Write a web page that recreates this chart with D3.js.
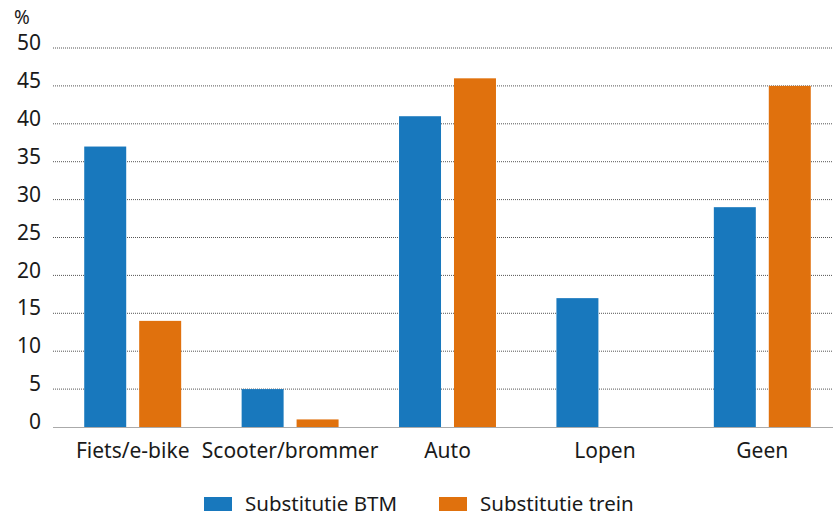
<!DOCTYPE html>
<html><head><meta charset="utf-8">
<script src="https://cdn.jsdelivr.net/npm/d3@7"></script>
<style>body{margin:0;background:#fff}text{font-family:"Noto Sans",sans-serif;fill:#1a1a1a}</style>
</head><body><svg id="c" width="833" height="516"></svg>
<script>
const categories = ["Fiets/e-bike","Scooter/brommer","Auto","Lopen","Geen"];
const seriesNames = ["Substitutie BTM","Substitutie trein"];
const btm = [37,5,41,17,29];
const trein = [14,1,46,0,45];
const yTicks = [0,5,10,15,20,25,30,35,40,45,50];
const colors = ["#1878bd","#e0710d"];

const svg = d3.select("#c");
const x = d3.scaleBand().domain(categories).range([54,841]).paddingInner(0).paddingOuter(0);
const x1 = d3.scaleBand().domain(seriesNames).range([0,x.bandwidth()]).paddingInner(0.236).paddingOuter(0.55);
const y = d3.scaleLinear().domain([0,50]).range([427,48]);

// gridlines
svg.append("g").selectAll("line").data(yTicks.filter(d=>d>0)).join("line")
  .attr("x1",53).attr("x2",833).attr("y1",d=>y(d)).attr("y2",d=>y(d))
  .attr("stroke","#555").attr("stroke-width",1).attr("stroke-dasharray","1,1");
svg.append("line").attr("x1",53).attr("x2",833).attr("y1",y(0)+0.5).attr("y2",y(0)+0.5)
  .attr("stroke","#aaa").attr("stroke-width",1.2);

// y labels
const yAxis = d3.axisLeft(y).tickValues(yTicks).tickSize(0).tickPadding(0);
const gy = svg.append("g").attr("transform","translate(41,0)").call(yAxis);
gy.select(".domain").remove();
gy.selectAll("text").style("font-size","21px").attr("fill","#1a1a1a").attr("dy","0.08em");
svg.append("text").attr("x",14).attr("y",24).style("font-size","19px").text("%");

// bars
const data = categories.map((c,i)=>({c, vals:[btm[i],trein[i]]}));
const g = svg.append("g").selectAll("g").data(data).join("g")
  .attr("transform",d=>`translate(${x(d.c)},0)`);
g.selectAll("rect").data(d=>d.vals.map((v,j)=>({s:seriesNames[j],v,j}))).join("rect")
  .attr("x",d=>x1(d.s)).attr("width",x1.bandwidth())
  .attr("y",d=>y(d.v)).attr("height",d=>y(0)-y(d.v))
  .attr("fill",d=>colors[d.j]);

// x labels
const xAxis = d3.axisBottom(x).tickSize(0).tickPadding(0);
const gx = svg.append("g").attr("transform","translate(0,458)").call(xAxis);
gx.select(".domain").remove();
gx.selectAll("text").style("font-size","21px").attr("fill","#1a1a1a").attr("dy","0");

// legend
const lx = [204,439];
seriesNames.forEach((s,i)=>{
  svg.append("rect").attr("x",lx[i]).attr("y",497).attr("width",28).attr("height",14).attr("fill",colors[i]);
  svg.append("text").attr("x",lx[i]+41).attr("y",511).style("font-size","20.5px").text(s);
});
</script></body></html>
